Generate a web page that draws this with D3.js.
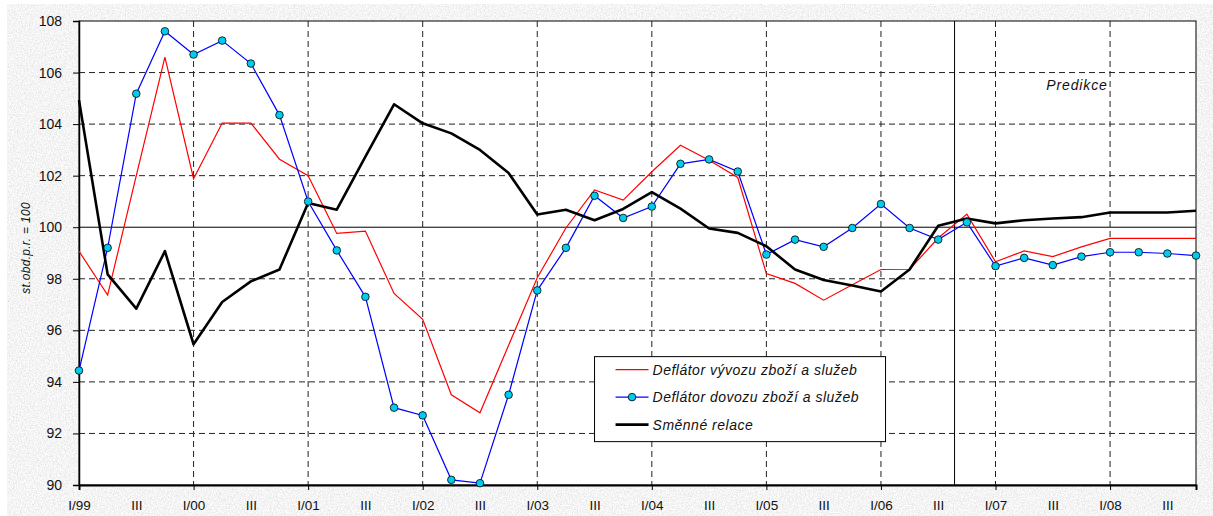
<!DOCTYPE html>
<html>
<head>
<meta charset="utf-8">
<script src="https://cdn.jsdelivr.net/npm/d3@7"></script>
<style>
  body { margin: 0; background: #fff; }
  svg { display: block; font-family: Arial, 'Liberation Sans', sans-serif; }
</style>
</head>
<body>
<div id="chart"></div>
<script>
const quarters = [
  'I/99', 'II/99', 'III/99', 'IV/99',
  'I/00', 'II/00', 'III/00', 'IV/00',
  'I/01', 'II/01', 'III/01', 'IV/01',
  'I/02', 'II/02', 'III/02', 'IV/02',
  'I/03', 'II/03', 'III/03', 'IV/03',
  'I/04', 'II/04', 'III/04', 'IV/04',
  'I/05', 'II/05', 'III/05', 'IV/05',
  'I/06', 'II/06', 'III/06', 'IV/06',
  'I/07', 'II/07', 'III/07', 'IV/07',
  'I/08', 'II/08', 'III/08', 'IV/08'
]

const exportDeflator = [
  99.07, 97.37, 102.0, 106.6, 101.88, 104.04, 104.04, 102.64,
  102.0, 99.76, 99.85, 97.43, 96.43, 93.5, 92.8, 95.42,
  98.04, 99.97, 101.45, 101.05, 102.15, 103.18, 102.6, 101.93,
  98.2, 97.82, 97.17, 97.77, 98.36, 98.37, 99.58, 100.51,
  98.66, 99.08, 98.86, 99.24, 99.57, 99.57, 99.57, 99.57
]

const importDeflator = [
  94.44, 99.2, 105.18, 107.6, 106.7, 107.24, 106.35, 104.35,
  101.0, 99.1, 97.3, 93.0, 92.7, 90.2, 90.07, 93.5,
  97.55, 99.2, 101.22, 100.36, 100.8, 102.46, 102.63, 102.16,
  98.94, 99.52, 99.24, 99.97, 100.9, 99.97, 99.52, 100.19,
  98.49, 98.81, 98.53, 98.86, 99.03, 99.03, 98.98, 98.9
]

const termsOfTrade = [
  104.93, 98.17, 96.84, 99.07, 95.46, 97.1, 97.9, 98.36,
  100.94, 100.68, 102.74, 104.77, 104.03, 103.64, 103.0, 102.1,
  100.49, 100.68, 100.27, 100.71, 101.36, 100.72, 99.95, 99.78,
  99.26, 98.36, 97.95, 97.74, 97.51, 98.36, 100.06, 100.34,
  100.15, 100.27, 100.34, 100.39, 100.57, 100.57, 100.57, 100.64
]

const yTicks = [90, 92, 94, 96, 98, 100, 102, 104, 106, 108]
const seriesNames = ['Deflátor vývozu zboží a služeb', 'Deflátor dovozu zboží a služeb', 'Směnné relace']
const yTitle = 'st.obd.p.r. = 100'
const forecastLabel = 'Predikce'
const forecastAfter = 'III/06'

const width = 1213
const height = 516
const margin = { left: 79, top: 21, right: 17, bottom: 31 }

const svg = d3.select('#chart').append('svg')
  .attr('width', width)
  .attr('height', height)

const defs = svg.append('defs')
const noise = defs.append('filter').attr('id', 'noise')
  .attr('x', 0).attr('y', 0).attr('width', '100%').attr('height', '100%')
noise.append('feTurbulence')
  .attr('type', 'fractalNoise')
  .attr('baseFrequency', 0.75)
  .attr('numOctaves', 3)
  .attr('seed', 3)
noise.append('feColorMatrix')
  .attr('type', 'matrix')
  .attr('values', '0.45 0 0 0 0.68  0.45 0 0 0 0.68  0.45 0 0 0 0.68  0 0 0 0 1')

svg.append('rect')
  .attr('x', 7).attr('y', 4)
  .attr('width', width - 7).attr('height', height - 4)
  .attr('filter', 'url(#noise)')

const x = d3.scalePoint()
  .domain(quarters)
  .range([margin.left, width - margin.right])

const y = d3.scaleLinear()
  .domain([90, 108])
  .range([height - margin.bottom, margin.top])

svg.append('rect')
  .attr('x', margin.left).attr('y', margin.top)
  .attr('width', width - margin.right - margin.left)
  .attr('height', height - margin.bottom - margin.top)
  .attr('fill', '#fff')
  .attr('stroke', '#000')
  .attr('stroke-width', 1)

// grid
let grid = svg.append('g').attr('class', 'grid')
grid.selectAll('line.h')
  .data(yTicks.filter((d) => d !== 90 && d !== 108 && d !== 100))
  .enter().append('line')
  .attr('x1', margin.left).attr('x2', width - margin.right)
  .attr('y1', (d) => y(d)).attr('y2', (d) => y(d))
  .attr('stroke', '#222')
  .attr('stroke-dasharray', '6,4')

grid.selectAll('line.v')
  .data(quarters.filter((q, i) => q.startsWith('I/') && i > 0))
  .enter().append('line')
  .attr('x1', (d) => x(d)).attr('x2', (d) => x(d))
  .attr('y1', margin.top).attr('y2', height - margin.bottom)
  .attr('stroke', '#222')
  .attr('stroke-dasharray', '6,4')

svg.append('line')
  .attr('x1', margin.left).attr('x2', width - margin.right)
  .attr('y1', y(100)).attr('y2', y(100))
  .attr('stroke', '#000')

let splitX = x(forecastAfter) + x.step() * 0.57
svg.append('line')
  .attr('x1', splitX).attr('x2', splitX)
  .attr('y1', margin.top).attr('y2', height - margin.bottom)
  .attr('stroke', '#000')

svg.append('text')
  .attr('x', x('II/07') + 22)
  .attr('y', y(105.5) + 5)
  .attr('font-size', 14)
  .attr('font-style', 'italic')
  .attr('letter-spacing', 0.9)
  .attr('fill', '#111')
  .text(forecastLabel)

// axes
let yAxis = svg.append('g')
  .attr('transform', `translate(${margin.left},0)`)
  .call(d3.axisLeft(y).tickValues(yTicks).tickSize(6).tickPadding(11).tickFormat(d3.format('d')))
yAxis.select('.domain').attr('stroke-width', 1.5)
yAxis.selectAll('text').attr('font-size', 14).attr('fill', '#111')

let labelled = quarters.filter((q, i) => i % 2 === 0)
let xAxis = svg.append('g')
  .attr('transform', `translate(0,${height - margin.bottom})`)
  .call(d3.axisBottom(x).tickValues(labelled).tickSize(5).tickPadding(10)
    .tickFormat((d) => (d.startsWith('III') ? 'III' : d)))
xAxis.select('.domain').attr('stroke-width', 2)
xAxis.selectAll('.tick').filter((d) => d.startsWith('III')).select('line').remove()
xAxis.selectAll('text').attr('font-size', 13.5).attr('fill', '#111')

svg.append('text')
  .attr('transform', `translate(30,${(margin.top + height - margin.bottom) / 2 - 5}) rotate(-90)`)
  .attr('text-anchor', 'middle')
  .attr('font-size', 12)
  .attr('font-style', 'italic')
  .attr('letter-spacing', 0.3)
  .attr('fill', '#111')
  .text(yTitle)

// series
let line = d3.line()
  .x((d, i) => x(quarters[i]))
  .y((d) => y(d))

svg.append('path')
  .datum(exportDeflator)
  .attr('d', line)
  .attr('fill', 'none')
  .attr('stroke', '#ff0000')
  .attr('stroke-width', 1.2)

svg.append('path')
  .datum(importDeflator)
  .attr('d', line)
  .attr('fill', 'none')
  .attr('stroke', '#0000ff')
  .attr('stroke-width', 1.2)

svg.append('path')
  .datum(termsOfTrade)
  .attr('d', line)
  .attr('fill', 'none')
  .attr('stroke', '#000')
  .attr('stroke-width', 2.6)
  .attr('stroke-linejoin', 'round')

svg.append('g')
  .selectAll('circle')
  .data(importDeflator)
  .enter().append('circle')
  .attr('cx', (d, i) => x(quarters[i]))
  .attr('cy', (d) => y(d))
  .attr('r', 3.8)
  .attr('fill', '#00ccf0')
  .attr('stroke', '#000')
  .attr('stroke-width', 0.8)

// legend
let legend = svg.append('g')
  .attr('transform', `translate(${x('III/03')},${y(94.98)})`)
legend.append('rect')
  .attr('width', 291).attr('height', 85)
  .attr('fill', '#fff')
  .attr('stroke', '#000')

let styles = [
  { color: '#ff0000', w: 1.2, marker: false },
  { color: '#0000ff', w: 1.2, marker: true },
  { color: '#000', w: 2.6, marker: false }
]
let rows = legend.selectAll('g.row')
  .data(seriesNames)
  .enter().append('g')
  .attr('transform', (d, i) => `translate(0,${13 + i * 27.5})`)
rows.append('line')
  .attr('x1', 21).attr('x2', 54)
  .attr('stroke', (d, i) => styles[i].color)
  .attr('stroke-width', (d, i) => styles[i].w)
rows.filter((d, i) => styles[i].marker).append('circle')
  .attr('cx', 37.5).attr('r', 3.8)
  .attr('fill', '#00ccf0').attr('stroke', '#000').attr('stroke-width', 0.8)
rows.append('text')
  .attr('x', 58).attr('y', 5)
  .attr('font-size', 14)
  .attr('font-style', 'italic')
  .attr('letter-spacing', 0.5)
  .attr('fill', '#111')
  .text((d) => d)
</script>
</body>
</html>
